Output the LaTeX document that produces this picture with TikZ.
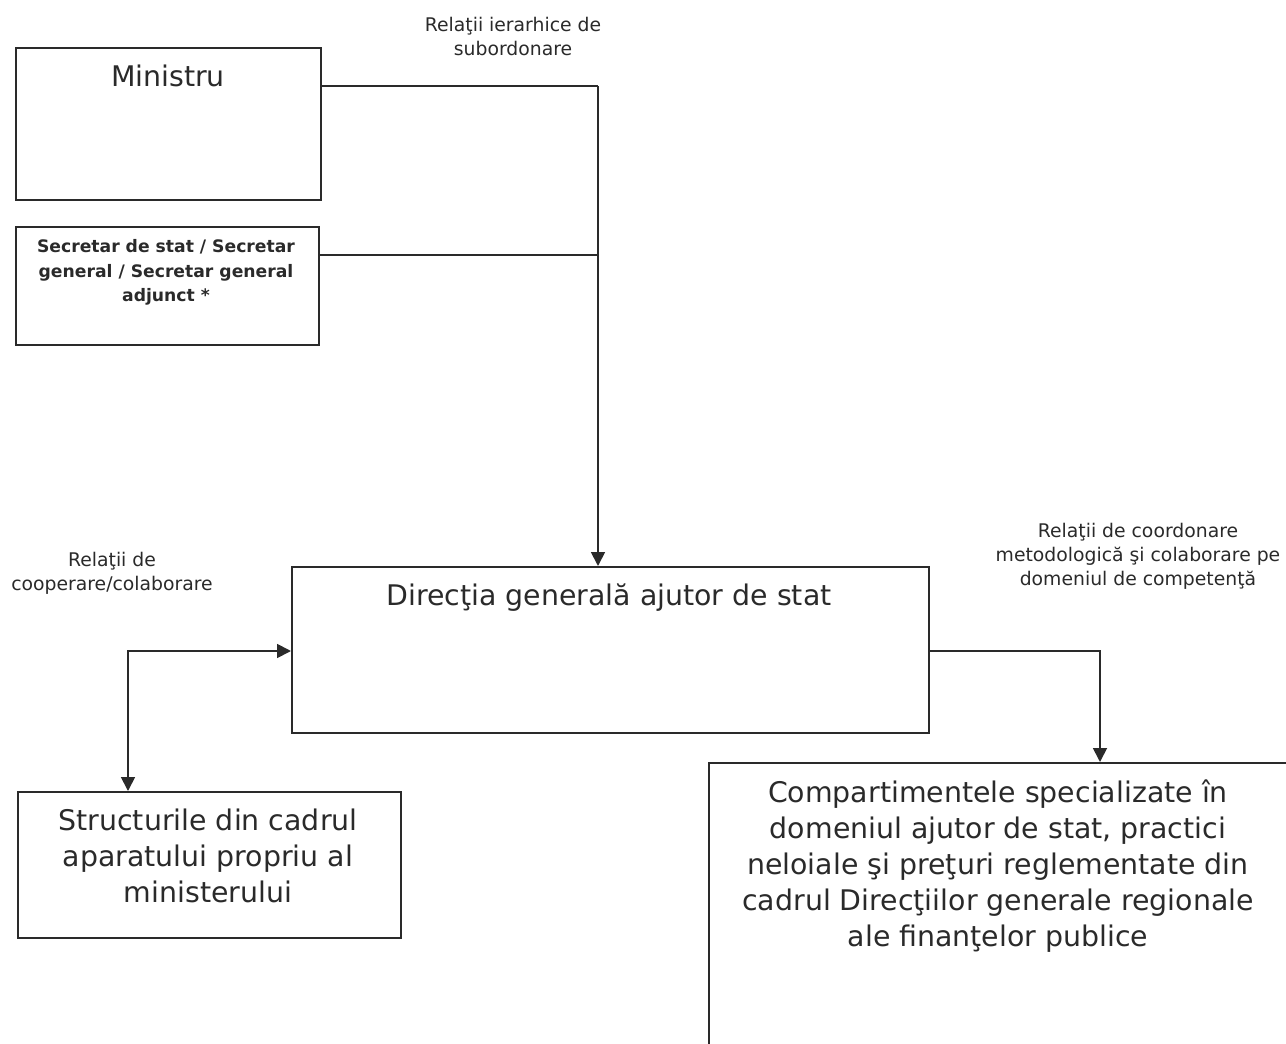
\documentclass[tikz,border=0pt]{standalone}
\usepackage{fontspec}
\setmainfont{DejaVu Sans}
\usetikzlibrary{arrows.meta}
\definecolor{ink}{HTML}{2A2A2A}
\begin{document}
\begin{tikzpicture}[x=1pt,y=-1pt,
  box/.style={draw=ink,line width=1.8pt,anchor=north west,inner sep=0pt},
  lbl/.style={align=center,font=\fontsize{18.8}{24}\selectfont,text=ink,anchor=center},
  big/.style={align=center,font=\fontsize{28.4}{36}\selectfont,text=ink,anchor=north},
  conn/.style={draw=ink,line width=1.8pt},
  tri/.tip={Triangle[length=14pt,width=14pt]},
  tip/.style={-tri}
]
\useasboundingbox (0,0) rectangle (1286,1044);
\clip (0,0) rectangle (1286,1044);
% boxes
\node[box,minimum width=305pt,minimum height=152pt] (min) at (15,47) {};
\node[box,minimum width=303pt,minimum height=118pt] (sec) at (15,226) {};
\node[box,minimum width=637pt,minimum height=166pt] (dir) at (291,566) {};
\node[box,minimum width=383pt,minimum height=146pt] (str) at (17,791) {};
\node[box,minimum width=640pt,minimum height=340pt] (comp) at (708,762) {};
% texts
\node[big] (tmin) at (168,61) {Ministru};
\node[align=center,font=\bfseries\fontsize{17.2}{24.5}\selectfont,text=ink,anchor=north] (tsec) at (166,236) {Secretar de stat / Secretar\\general / Secretar general\\adjunct *};
\node[big] (tdir) at (609,580) {Direcţia generală ajutor de stat};
\node[big] (tstr) at (208,805) {Structurile din cadrul\\aparatului propriu al\\ministerului};
\node[big] (tcomp) at (998,776) {Compartimentele specializate în\\domeniul ajutor de stat, practici\\neloiale şi preţuri reglementate din\\cadrul Direcţiilor generale regionale\\ale finanţelor publice};
\node[lbl] (l1) at (513,36) {Relaţii ierarhice de\\subordonare};
\node[lbl] (l2) at (112,573) {Relaţii de\\cooperare/colaborare};
\node[lbl] (l3) at (1138,556) {Relaţii de coordonare\\metodologică şi colaborare pe\\domeniul de competenţă};
% connectors
\coordinate (j1) at (598,86);
\coordinate (j2) at (598,255);
\draw[conn] (min.east |- j1) -- (j1);
\draw[conn] (sec.east |- j2) -- (j2);
\draw[conn,tip] (j1) -- (dir.north -| j1);
\coordinate (k1) at (128,651);
\draw[conn,tri-tri] (dir.west |- k1) -- (k1) -- (str.north -| k1);
\coordinate (k2) at (1100,651);
\draw[conn,tip] (dir.east |- k2) -- (k2) -- (comp.north -| k2);
\end{tikzpicture}
\end{document}
